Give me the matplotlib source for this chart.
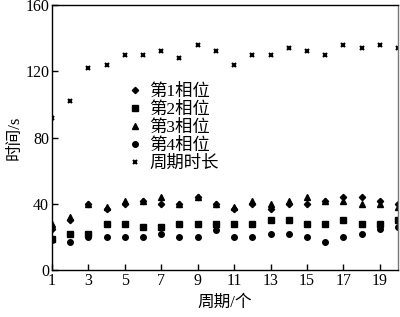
import matplotlib
matplotlib.use('Agg')
import matplotlib.pyplot as plt
import numpy as np

plt.rcParams['font.family'] = ['Liberation Serif', 'Noto Sans CJK SC']
plt.rcParams['axes.unicode_minus'] = False

# cycle index
cycles = np.arange(1, 21)

# phase durations (s)
phase1 = [25, 30, 40, 37, 40, 42, 40, 40, 44, 40, 37, 40, 37, 40, 40, 42, 44, 44, 42, 40]
phase2 = [19, 22, 22, 28, 28, 26, 26, 28, 28, 28, 28, 28, 30, 30, 28, 28, 30, 28, 28, 30]
phase3 = [28, 32, 40, 38, 42, 42, 44, 40, 44, 40, 38, 42, 40, 42, 44, 42, 42, 40, 40, 38]
phase4 = [18, 17, 20, 20, 20, 20, 22, 20, 20, 24, 20, 20, 22, 22, 20, 17, 20, 22, 25, 26]
cycle_len = [92, 102, 122, 124, 130, 130, 132, 128, 136, 132, 124, 130, 130, 134, 132, 130, 136, 134, 136, 134]

labels = ['第1相位', '第2相位', '第3相位', '第4相位', '周期时长']

fig = plt.figure(figsize=(4.0, 3.17), dpi=100)
ax = fig.add_axes([0.13, 0.148, 0.865, 0.836])

ax.plot(cycles, phase1, 'kD', markersize=3.2, linestyle='none', label=labels[0])
ax.plot(cycles, phase2, 'ks', markersize=4, linestyle='none', label=labels[1])
ax.plot(cycles, phase3, 'k^', markersize=4.2, linestyle='none', label=labels[2])
ax.plot(cycles, phase4, 'ko', markersize=4, linestyle='none', label=labels[3])
ax.plot(cycles, cycle_len, 'kx', markersize=3.5, markeredgewidth=1.5, linestyle='none', label=labels[4])

ax.set_xlim(1, 20)
ax.set_ylim(0, 160)
ax.set_xticks(np.arange(1, 20, 2))
ax.set_yticks(np.arange(0, 161, 40))
ax.tick_params(direction='in', length=4, width=1, labelsize=11.5, pad=2)
for s in ax.spines.values():
    s.set_linewidth(1)
ax.spines['right'].set_color('#777777')

ax.set_xlabel('周期/个', fontsize=12, labelpad=4)
ax.set_ylabel('时间/s', fontsize=12, labelpad=2)

ax.legend(loc='upper left', bbox_to_anchor=(0.19, 0.735), frameon=False,
          fontsize=12.5, labelspacing=0.1, handletextpad=0.3,
          handlelength=1.0, borderpad=0)

fig.savefig('out.png', dpi=100)
